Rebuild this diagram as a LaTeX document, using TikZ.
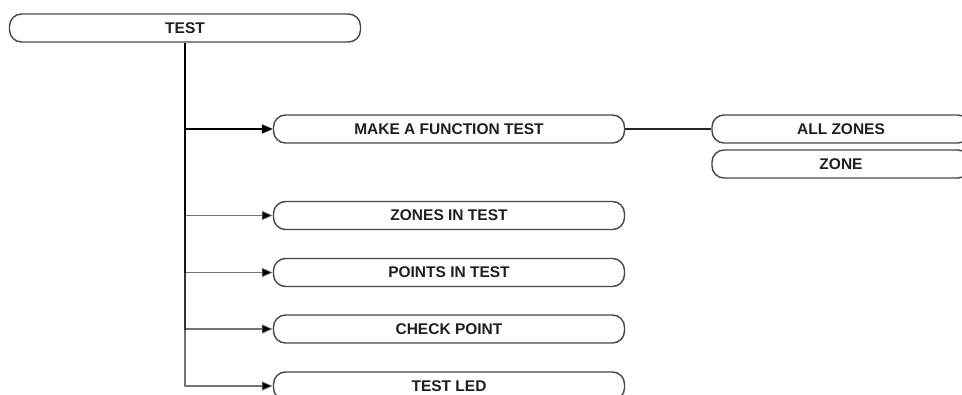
\documentclass[tikz,border=0pt]{standalone}
\usepackage{fontspec}
\setmainfont{Liberation Sans}
\usetikzlibrary{arrows.meta}
\begin{document}
\begin{tikzpicture}[x=1pt,y=-1pt,
  menubox/.style={draw=black!72, line width=1.4pt, rounded corners=12pt, fill=white,
    minimum height=28pt, inner sep=0pt, font=\bfseries\fontsize{15.5}{17}\selectfont, text=black!88},
  conn/.style={line width=1.8pt, draw=black, draw opacity=0.55,
    -{Triangle[length=11pt,width=9pt]}},
  connmain/.style={line width=1.5pt, draw=black, -{Triangle[length=11pt,width=9pt]}},
  plain/.style={line width=1.3pt, draw=black!85}]
\useasboundingbox (0,0) rectangle (962,394);
\node[menubox, minimum width=351pt] (test) at (185,28) {TEST};
\node[menubox, minimum width=351pt] (mft) at (449,129) {MAKE A FUNCTION TEST};
\node[menubox, minimum width=351pt] (zit) at (449,215.5) {ZONES IN TEST};
\node[menubox, minimum width=351pt] (pit) at (449,272.5) {POINTS IN TEST};
\node[menubox, minimum width=351pt] (cp) at (449,329) {CHECK POINT};
\node[menubox, minimum width=351pt] (tl) at (449,386) {TEST LED};
\node[menubox, minimum width=258pt] (all) at (841,129) {ALL ZONES};
\node[menubox, minimum width=258pt] (zone) at (841,164) {ZONE};
\draw[conn] (test.south) |- (tl.west);
\draw[conn] (test.south) |- (cp.west);
\draw[conn] (test.south) |- (pit.west);
\draw[conn] (test.south) |- (zit.west);
\draw[connmain] (test.south) |- (mft.west);
\draw[plain] (mft.east) -- (all.west);
\end{tikzpicture}
\end{document}
